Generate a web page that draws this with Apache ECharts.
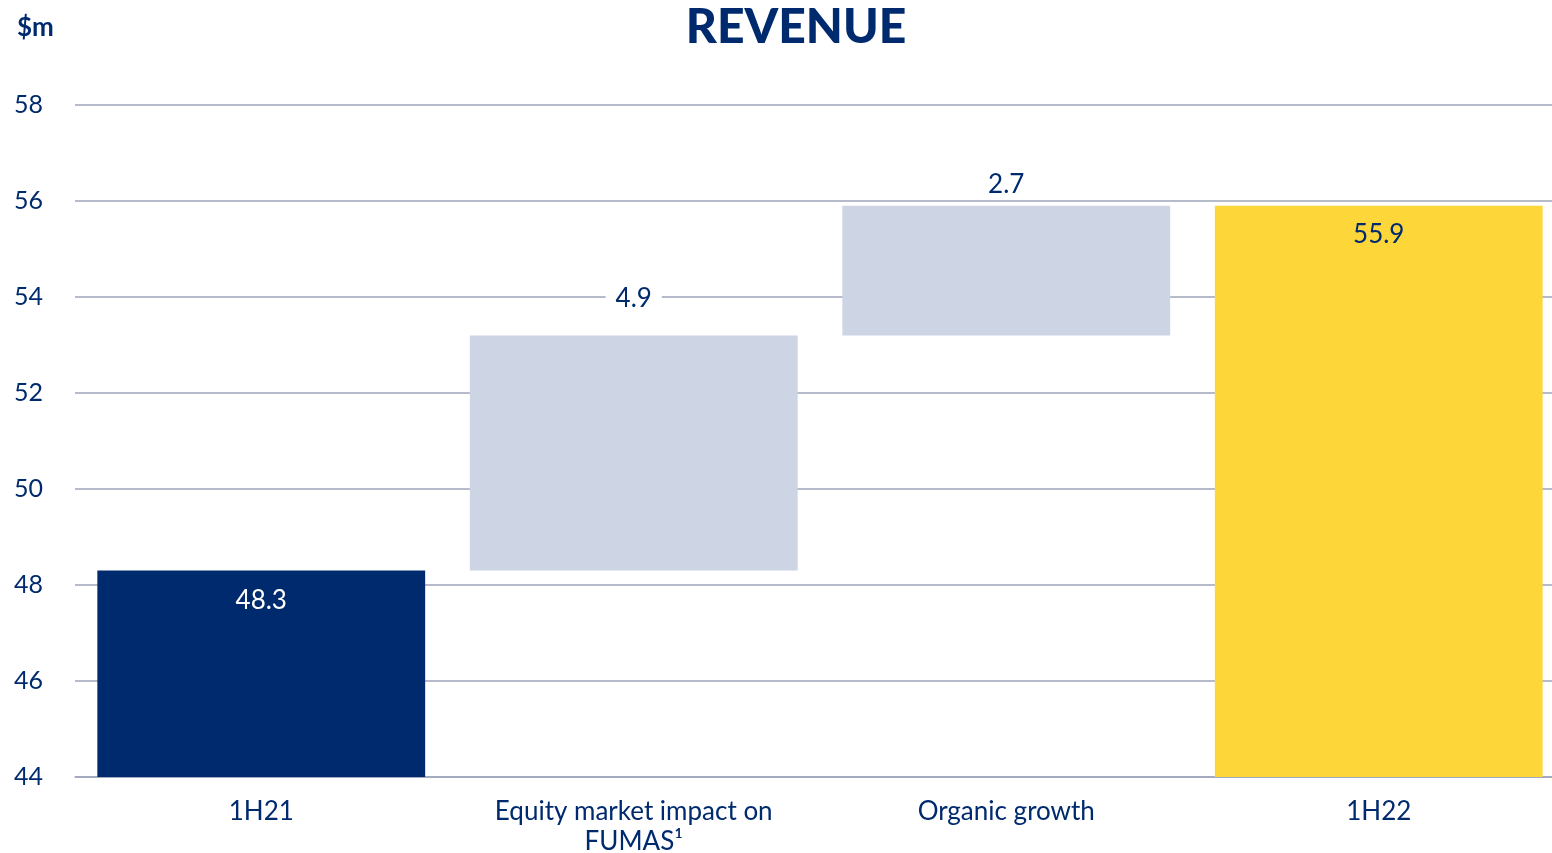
<!DOCTYPE html>
<html>
<head>
<meta charset="utf-8">
<script src="https://cdn.jsdelivr.net/npm/echarts@6/dist/echarts.min.js"></script>
<style>
  html, body { margin: 0; padding: 0; background: #fff; }
  #chart { width: 1552px; height: 853px; }
</style>
</head>
<body>
<div id="chart"></div>
<script>
const categories = ['1H21', 'Equity market impact on\nFUMAS¹', 'Organic growth', '1H22'];
const baseValues = [0, 48.3, 53.2, 0]; // invisible floor under floating bars
const barValues = [48.3, 4.9, 2.7, 55.9];
const yTicks = { min: 44, max: 58, interval: 2 };

const NAVY = '#002a6e';
const LIGHT = '#cdd4e3';
const YELLOW = '#fdd73a';
const FONT = 'Lato, "Noto Sans", sans-serif';

// per bar look: colour, label placement
const barStyles = [
  { color: NAVY, label: { position: 'insideTop', distance: 17, color: '#fff' } },
  { color: LIGHT, label: { position: 'top', distance: 24, color: NAVY, backgroundColor: '#fff', padding: [0, 10] } },
  { color: LIGHT, label: { position: 'top', distance: 8, color: NAVY, backgroundColor: '#fff', padding: [0, 10] } },
  { color: YELLOW, label: { position: 'insideTop', distance: 16, color: NAVY } },
];

const chart = echarts.init(document.getElementById('chart'));

const option = {
  animation: false,
  textStyle: { fontFamily: FONT },
  graphic: [
    {
      type: 'text',
      left: 17,
      top: 15,
      style: { text: '$m', fill: NAVY, font: 'bold 26px ' + FONT },
    },
    {
      type: 'text',
      x: 796,
      y: 28,
      style: {
        text: 'REVENUE',
        fill: NAVY,
        font: '900 48px ' + FONT,
        align: 'center',
        verticalAlign: 'middle',
      },
    },
  ],
  grid: {
    left: 75,
    right: -13,
    top: 105,
    bottom: 76,
    outerBoundsMode: 'none',
  },
  xAxis: {
    type: 'category',
    data: categories,
    axisLine: { show: true, lineStyle: { color: '#9ea5bb', width: 1.5 } },
    axisTick: { show: false },
    axisLabel: {
      color: NAVY,
      fontSize: 26,
      lineHeight: 30,
      margin: 20,
      fontFamily: FONT,
      interval: 0,
    },
  },
  yAxis: {
    type: 'value',
    min: yTicks.min,
    max: yTicks.max,
    interval: yTicks.interval,
    axisLine: { show: false },
    axisTick: { show: false },
    axisLabel: {
      color: NAVY,
      fontSize: 25,
      margin: 32,
      fontFamily: FONT,
    },
    splitLine: { lineStyle: { color: '#9ea5bb', width: 1.5 } },
  },
  series: [
    {
      name: 'base',
      type: 'bar',
      stack: 'wf',
      barCategoryGap: '12%',
      itemStyle: { color: 'transparent' },
      emphasis: { disabled: true },
      data: baseValues,
    },
    {
      name: 'revenue',
      type: 'bar',
      stack: 'wf',
      barCategoryGap: '12%',
      data: barValues.map((v, i) => ({
        value: v,
        itemStyle: { color: barStyles[i].color },
        label: Object.assign(
          { show: true, fontSize: 26, fontFamily: FONT, formatter: (p) => p.value.toFixed(1) },
          barStyles[i].label
        ),
      })),
    },
  ],
};

chart.setOption(option);
</script>
</body>
</html>
